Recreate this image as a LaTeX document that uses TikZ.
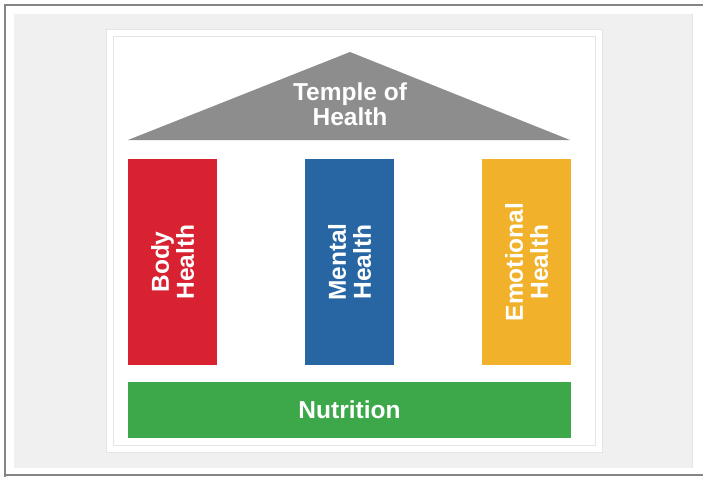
\documentclass[tikz,border=0pt]{standalone}
\usepackage{fontspec}
\setmainfont{Liberation Sans}
\usepackage{xcolor,tikz}
\definecolor{frame}{HTML}{858585}
\definecolor{panel}{HTML}{F0F0F0}
\definecolor{cardline}{HTML}{E4E4E4}
\definecolor{roofgray}{HTML}{8D8D8D}
\definecolor{bodyred}{HTML}{D82131}
\definecolor{mindblue}{HTML}{2766A3}
\definecolor{moodyellow}{HTML}{F1B12B}
\definecolor{foodgreen}{HTML}{3DA84A}

\begin{document}
\begin{tikzpicture}[x=1pt,y=-1pt,
 pillar/.style={rotate=90,minimum width=206pt,minimum height=89pt,inner sep=0pt,
  text=white,align=center,font=\bfseries\fontsize{24.5}{25}\selectfont},
 lbl/.style={text=white,align=center,font=\bfseries\fontsize{24.5}{25}\selectfont}]
 \useasboundingbox (0,0) rectangle (703,477);
 % page frame and grey panel
 \fill[white] (0,0) rectangle (703,477);
 \fill[panel] (14,14) rectangle (693,468);
 \draw[cardline,line width=1.5pt] (692.5,14) -- (692.5,468);
 \draw[frame,line width=2pt] (5,477) -- (5,5) -- (703,5);
 \draw[frame,line width=2pt] (4,475) -- (703,475);
 % white card
 \filldraw[fill=white,draw=cardline] (106,29) rectangle (602,452);
 \draw[cardline] (113,36) rectangle (595,445);
 % roof
 \fill[roofgray] (128,140) -- (350,52) -- (570,140) -- cycle;
 \node[lbl] (roof) at (350,104) {Temple of\\Health};
 % pillars
 \node[pillar,fill=bodyred] (body) at (172.5,262) {Body\\Health};
 \node[pillar,fill=mindblue] (mental) at (349.5,262) {Mental\\Health};
 \node[pillar,fill=moodyellow] (emotion) at (526.5,262) {Emotional\\Health};
 % base
 \node[lbl,fill=foodgreen,minimum width=443pt,minimum height=56pt,inner sep=0pt]
  (base) at (349.5,410) {Nutrition};
\end{tikzpicture}
\end{document}
